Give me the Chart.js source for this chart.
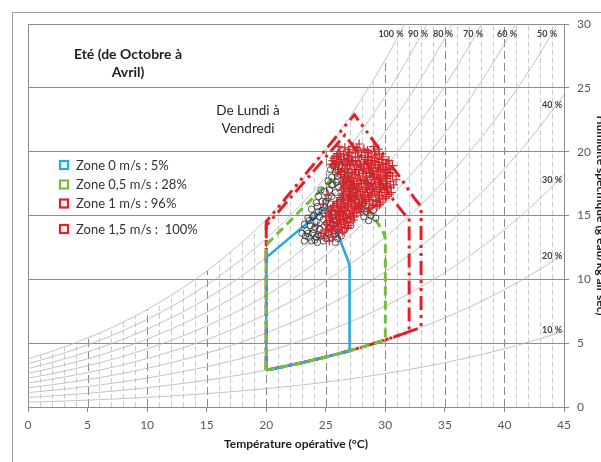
<!DOCTYPE html>
<html>
<head>
<meta charset="utf-8">
<script src="https://cdn.jsdelivr.net/npm/chart.js@4.4.1/dist/chart.umd.min.js"></script>
<style>
  html, body { margin: 0; padding: 0; background: #fff; }
  canvas { display: block; }
</style>
</head>
<body>
<canvas id="psychro" width="601" height="462"></canvas>
<script>
// Diagramme psychrometrique - confort ete
'use strict';

// temperatures (degC) et pression de vapeur saturante (Pa)
var tempGrid = [0,1,2,3,4,5,6,7,8,9,10,11,12,13,14,15,16,17,18,19,20,21,22,23,24,25,26,27,28,29,30,31,32,33,34,35,36,37,38,39,40,41,42,43,44,45];
var satPressure = [611,657,706,758,814,873,935,1002,1073,1148,1228,1313,1403,1498,1599,1706,1819,1938,2064,2198,2339,2488,2645,2810,2985,3169,3363,3567,3782,4008,4246,4495,4758,5034,5323,5628,5945,6280,6630,6996,7381,7784,8205,8646,9107,9589];
var rhLevels = [10,20,30,40,50,60,70,80,90,100];
var rhLabels = ['100 %','90 %','80 %','70 %','60 %','50 %','40 %','30 %','20 %','10 %'];

var xTicks = [0,5,10,15,20,25,30,35,40,45];
var yTicks = [0,5,10,15,20,25,30];

// zones de confort (T, humidite g/kg)
var zoneBlue  = [[20,2.89],[20,11.7],[25.1,15.7],[26.9,11.4],[27,11.0],[27,4.41],[26,4.16],[25,3.92],[24,3.69],[23,3.47],[22,3.27],[21,3.07],[20,2.89]];
var zoneGreen = [[20,2.89],[20,12.7],[26.4,18.7],[29.0,14.9],[29.8,13.8],[30,13.2],[30,5.26],[29,4.96],[28,4.68],[27,4.41],[26,4.16],[25,3.92],[24,3.69],[23,3.47],[22,3.27],[21,3.07],[20,2.89]];
var zoneRed1  = [[20,2.89],[20,14.2],[26.6,21.3],[31.1,15.7],[31.7,15.0],[32,14.8],[32,5.9],[31,5.57],[30,5.26],[29,4.96],[28,4.68],[27,4.41],[26,4.16],[25,3.92],[24,3.69],[23,3.47],[22,3.27],[21,3.07],[20,2.89]];
var zoneRed15 = [[20,2.89],[20,14.5],[27.4,22.9],[31.3,17.9],[32.4,16.4],[33,15.7],[33,6.24],[32,5.9],[31,5.57],[30,5.26],[29,4.96],[28,4.68],[27,4.41],[26,4.16],[25,3.92],[24,3.69],[23,3.47],[22,3.27],[21,3.07],[20,2.89]];
var zoneLabels = ['Zone 0 m/s : 5%','Zone 0,5 m/s : 28%','Zone 1 m/s : 96%','Zone 1,5 m/s :  100%'];

// mesures (T operative, humidite specifique)
var crossPoints = [
  [26.6,20.3],[27.3,20.4],[28.2,20.2],[27.8,20.6],[29.4,20.2],
  [26.2,20.0],[27.0,19.9],[27.7,20.1],[28.6,19.9],[29.1,20.0],
  [25.9,19.6],[26.5,19.8],[27.2,19.6],[28.0,19.7],[28.8,19.6],[29.5,19.8],
  [25.6,19.3],[26.3,19.4],[26.9,19.5],[27.5,19.3],[28.3,19.4],[28.9,19.3],[29.7,19.4],
  [25.5,19.0],[26.1,19.1],[26.7,19.0],[27.3,19.2],[27.9,19.0],[28.5,19.1],[29.1,19.2],[29.8,19.0],
  [25.8,18.8],[26.4,18.7],[27.0,18.9],[27.6,18.8],[28.2,18.7],[28.8,18.9],[29.4,18.7],[30.0,18.8],[30.6,18.9],
  [26.0,18.4],[26.6,18.5],[27.2,18.4],[27.8,18.6],[28.4,18.4],[29.0,18.5],[29.6,18.6],[30.2,18.4],
  [26.3,18.2],[26.9,18.1],[27.5,18.2],[28.1,18.3],[28.7,18.1],[29.3,18.2],[29.9,18.1],[30.4,18.3],
  [26.5,17.9],[27.1,17.8],[27.7,17.9],[28.3,17.8],[28.9,18.0],[29.5,17.8],[30.1,17.9],
  [26.4,17.5],[27.0,17.6],[27.6,17.5],[28.2,17.7],[28.8,17.5],[29.4,17.6],[30.0,17.5],[30.7,17.4],
  [26.6,17.3],[27.2,17.2],[27.8,17.3],[28.4,17.2],[29.0,17.3],[29.6,17.2],[30.2,17.3],
  [26.3,17.0],[26.9,16.9],[27.5,17.0],[28.1,16.9],[28.7,17.0],[29.3,16.9],[29.9,17.0],[30.5,16.8],
  [26.5,16.7],[27.1,16.6],[27.7,16.7],[28.3,16.6],[28.9,16.7],[29.5,16.6],[30.1,16.5],
  [26.2,16.4],[26.8,16.3],[27.4,16.4],[28.0,16.3],[28.6,16.4],[29.2,16.2],[29.8,16.3],
  [26.0,16.1],[26.6,16.0],[27.2,16.1],[27.8,16.0],[28.4,16.1],[29.0,15.9],[29.6,16.0],
  [25.7,15.8],[26.3,15.7],[26.9,15.8],[27.5,15.7],[28.1,15.8],[28.7,15.6],[29.3,15.7],
  [25.4,15.5],[26.0,15.4],[26.6,15.5],[27.2,15.4],[27.8,15.5],[28.5,15.3],
  [25.2,15.2],[25.8,15.1],[26.4,15.2],[27.0,15.1],[27.6,15.2],
  [25.0,14.9],[25.6,14.8],[26.2,14.9],[26.8,14.8],[27.4,14.9],
  [25.3,14.6],[25.9,14.5],[26.5,14.6],[27.1,14.5],
  [25.1,14.3],[25.7,14.2],[26.3,14.3],[26.9,14.2],
  [25.4,14.0],[26.0,13.9],[26.6,14.0],
  [25.2,13.7],[25.8,13.6],[26.4,13.7],
  [24.9,13.4],[25.6,13.3],[25.3,13.0],
  [24.6,13.6],[24.3,14.2],[30.9,17.8],[24.8,15.9],[25.2,16.6],[30.3,19.3],[26.1,20.4],
  [26.9,20.15],[27.6,20.3],[28.5,20.1],[29.0,20.4],
  [26.0,19.85],[26.8,19.7],[27.5,19.9],[28.3,19.95],[29.2,19.75],[29.8,19.6],
  [25.7,19.5],[26.2,19.6],[26.8,19.35],[27.7,19.55],[28.5,19.55],[29.3,19.5],
  [25.9,19.25],[26.6,19.2],[27.2,19.3],[27.8,19.25],[28.6,19.3],[29.4,19.15],[30.1,19.1],
  [25.7,18.95],[26.4,18.95],[27.1,19.05],[27.6,18.95],[28.2,19.0],[28.8,19.05],[29.5,18.95],[30.3,18.7],
  [26.1,18.6],[26.8,18.65],[27.4,18.6],[28.0,18.8],[28.6,18.65],[29.2,18.75],[29.8,18.5],[30.4,18.6],
  [26.3,18.4],[26.9,18.3],[27.5,18.35],[28.2,18.5],[28.8,18.3],[29.4,18.4],[30.0,18.35],[30.6,18.1],
  [26.6,18.0],[27.2,18.0],[27.8,18.1],[28.4,18.0],[29.0,18.2],[29.6,18.0],[30.2,18.1],
  [26.7,17.7],[27.3,17.7],[27.9,17.75],[28.5,17.6],[29.1,17.8],[29.7,17.7],[30.4,17.65],
  [26.8,17.45],[27.4,17.4],[28.0,17.5],[28.6,17.4],[29.2,17.45],[29.8,17.4],[30.4,17.2],
  [26.5,17.15],[27.1,17.1],[27.7,17.15],[28.3,17.05],[28.9,17.15],[29.5,17.05],[30.1,17.15],
  [26.7,16.85],[27.3,16.8],[27.9,16.85],[28.5,16.8],[29.1,16.85],[29.7,16.8],[30.3,16.65],
  [26.4,16.55],[27.0,16.5],[27.6,16.55],[28.2,16.45],[28.8,16.55],[29.4,16.45],[30.0,16.35],
  [26.3,16.25],[26.9,16.2],[27.5,16.25],[28.1,16.15],[28.7,16.25],[29.3,16.1],
  [25.9,15.95],[26.5,15.9],[27.1,15.95],[27.7,15.85],[28.3,15.95],[28.9,15.8],[29.5,15.85],
  [25.6,15.65],[26.2,15.6],[26.8,15.65],[27.4,15.55],[28.0,15.65],[28.6,15.45],
  [25.5,15.35],[26.1,15.3],[26.7,15.35],[27.3,15.25],[27.9,15.3],
  [25.3,15.05],[25.9,15.0],[26.5,15.05],[27.1,14.95],
  [25.5,14.75],[26.1,14.7],[26.7,14.75],[27.3,14.65],
  [25.4,14.45],[26.0,14.4],[26.6,14.45],
  [25.6,14.1],[26.2,14.15],[26.8,14.05],
  [25.0,13.85],[25.5,13.9],[26.1,13.8]
];
var circlePoints = [
  [23.2,13.0],[23.6,13.3],[23.4,13.8],[23.9,13.6],[24.1,13.1],[23.7,14.2],[24.2,14.5],[24.5,13.9],[24.0,15.0],
  [24.4,15.3],[24.8,14.7],[24.6,13.4],[25.0,13.2],[25.3,14.0],[24.9,15.6],[25.4,15.9],[25.6,15.1],[25.1,14.4],
  [23.5,14.8],[24.7,16.1],[23.0,13.6],[24.3,12.9],[25.7,13.5],[25.9,14.6],[25.2,16.4],[23.8,15.5],[24.2,16.0],
  [25.3,17.0],[25.6,17.4],[25.5,18.0],[25.8,18.4],[26.0,17.8],[25.9,19.0],[26.2,18.9],[26.4,18.3],[26.1,17.2],
  [25.7,19.5],[26.3,19.6],[26.6,18.7],[26.8,18.1],[26.5,17.5],[27.0,17.6],[27.2,17.1],[26.9,16.8],[27.4,16.5],
  [27.6,16.1],[27.8,15.7],[28.0,15.5],[27.3,15.9],[26.7,16.2],[26.2,16.0],[26.0,15.3],[26.4,15.0],[26.8,14.6],
  [27.1,14.2],[26.5,13.8],[26.0,13.2],[28.4,15.3],[28.8,15.0],[29.2,14.8],[28.6,14.6],[25.4,18.6],[25.2,17.7],
  [26.7,19.2],[27.5,18.4],[24.6,17.0],[24.9,16.9],[27.1,15.0],[29.0,15.4],
  [23.3,13.4],[23.8,13.0],[24.0,13.9],[24.4,13.5],[23.6,14.6],[24.1,14.1],[24.5,14.9],[24.8,13.0],[25.2,13.6],
  [24.7,15.4],[24.3,15.7],[25.5,16.5],[25.0,16.1],[23.9,14.9],[25.6,14.3],[24.9,14.2],[25.4,13.3],[24.2,13.3],
  [23.5,13.6],[25.8,16.8],[26.0,18.1],[25.6,18.9],[26.1,19.3],[25.5,17.4],[25.9,17.6],[24.4,16.5],[23.2,14.3],
  [25.8,12.9],[26.3,13.4],[28.2,14.9]
];

var FONT = 'Lato, "Open Sans", sans-serif';
var GRIS = '#8c8c8c';

function humidite(pv) {
    return 622 * pv / (101325 - pv);
}
function toXY(list) {
    return list.map(function (p) { return { x: p[0], y: p[1] }; });
}

var datasets = [];

// courbes d'humidite relative
rhLevels.forEach(function (rh) {
    datasets.push({
        data: tempGrid.map(function (t, i) { return { x: t, y: humidite(satPressure[i] * rh / 100) }; }),
        showLine: true, pointRadius: 0, borderColor: '#b4b4b4', borderWidth: 0.8, order: 6
    });
});

datasets.push({ label: zoneLabels[3], data: toXY(zoneRed15), showLine: true, pointRadius: 0,
    borderColor: '#e2202a', borderWidth: 3, borderDash: [14, 5, 3, 5, 3, 5], order: 4 });
datasets.push({ label: zoneLabels[2], data: toXY(zoneRed1), showLine: true, pointRadius: 0,
    borderColor: '#e2202a', borderWidth: 3, borderDash: [14, 5, 3, 5], order: 4 });
datasets.push({ label: zoneLabels[1], data: toXY(zoneGreen), showLine: true, pointRadius: 0,
    borderColor: '#74be3f', borderWidth: 3, borderDash: [9, 5], order: 3 });
datasets.push({ label: zoneLabels[0], data: toXY(zoneBlue), showLine: true, pointRadius: 0,
    borderColor: '#27aae1', borderWidth: 2.5, order: 3 });

datasets.push({ data: toXY(circlePoints), pointStyle: 'circle', pointRadius: 3.2,
    borderColor: '#2a2a2a', backgroundColor: 'rgba(0,0,0,0)', pointBorderWidth: 0.8, order: 2 });
datasets.push({ data: toXY(crossPoints), pointStyle: 'cross', pointRadius: 4.5,
    borderColor: '#d3232b', pointBorderWidth: 1.2, order: 1 });

var fond = {
    id: 'fond',
    beforeDatasetsDraw: function (chart) {
        var c = chart.ctx, sx = chart.scales.x, sy = chart.scales.y;
        c.save();
        tempGrid.forEach(function (t, i) {
            if (t === 0 || t === 45) return;
            var top = Math.min(humidite(satPressure[i]), 30);
            var x = Math.round(sx.getPixelForValue(t)) + 0.5;
            c.beginPath();
            if (t % 5 === 0) { c.strokeStyle = '#8a8a8a'; c.setLineDash([8, 4]); }
            else { c.strokeStyle = '#cacaca'; c.setLineDash([5, 3]); }
            c.lineWidth = 1;
            c.moveTo(x, sy.getPixelForValue(0));
            c.lineTo(x, sy.getPixelForValue(top));
            c.stroke();
        });
        c.setLineDash([]);
        c.strokeStyle = GRIS;
        var x0 = Math.round(sx.getPixelForValue(0)) + 0.5;
        c.beginPath();
        c.moveTo(x0, sy.getPixelForValue(0));
        c.lineTo(x0, sy.getPixelForValue(30));
        c.stroke();
        // cadre exterieur
        c.strokeStyle = '#a0a0a0';
        c.strokeRect(12.5, 12.5, 620, 480);
        c.restore();
    },
    afterDraw: function (chart) {
        var c = chart.ctx;
        c.save();
        c.fillStyle = '#1e1e1e';
        c.textAlign = 'center';
        c.textBaseline = 'middle';
        c.font = 'bold 14px ' + FONT;
        c.fillText('Eté (de Octobre à', 128, 54);
        c.fillText('Avril)', 128, 72);
        c.font = '13.5px ' + FONT;
        c.fillText('De Lundi à', 248, 111);
        c.fillText('Vendredi', 248, 129);

        var couleurs = ['#27aae1', '#74be3f', '#e2202a', '#e2202a'];
        var ys = [165, 184.5, 203.5, 229];
        c.textAlign = 'left';
        c.font = '13px ' + FONT;
        zoneLabels.forEach(function (lab, i) {
            c.strokeStyle = couleurs[i];
            c.lineWidth = 2.2;
            c.strokeRect(60, ys[i] - 4, 8, 8);
            c.fillStyle = '#333';
            c.fillText(lab, 76, ys[i] + 0.5);
        });

        var pos = [[391, 34], [418, 34], [443, 34], [473, 34], [507, 34], [547, 34], [552, 105], [552, 180], [552, 256], [552, 330]];
        c.font = 'bold 9px ' + FONT;
        c.textAlign = 'center';
        c.fillStyle = '#404040';
        rhLabels.forEach(function (lab, i) {
            c.fillText(lab, pos[i][0], pos[i][1]);
        });
        c.restore();
    }
};

var ctx = document.getElementById('psychro');
var psychroChart = new Chart(ctx, {
    type: 'scatter',
    data: { datasets: datasets },
    options: {
        responsive: false,
        animation: false,
        layout: { padding: { left: 28, top: 24, right: 0, bottom: 0 } },
        plugins: { legend: { display: false }, tooltip: { enabled: false } },
        scales: {
            x: {
                type: 'linear', min: 0, max: 45,
                afterBuildTicks: function (s) { s.ticks = xTicks.map(function (v) { return { value: v }; }); },
                afterFit: function (s) { s.height = 55; },
                ticks: { color: '#595959', padding: 6, font: { family: FONT, size: 12 } },
                grid: { drawOnChartArea: false, color: GRIS, tickLength: 5 },
                border: { color: GRIS },
                title: { display: true, text: 'Température opérative (°C)', color: '#1e1e1e',
                    font: { family: FONT, size: 12, weight: 'bold' }, padding: { top: 0, bottom: 11 } }
            },
            y: {
                type: 'linear', position: 'right', min: 0, max: 30,
                afterBuildTicks: function (s) { s.ticks = yTicks.map(function (v) { return { value: v }; }); },
                afterFit: function (s) { s.width = 37; },
                ticks: { color: '#595959', padding: 8, font: { family: FONT, size: 12 } },
                grid: { color: GRIS, tickLength: 5 },
                border: { color: GRIS },
                title: { display: true, text: 'Humidité spécifique (g eau/kg air sec)', color: '#1e1e1e',
                    font: { family: FONT, size: 12, weight: 'bold' }, padding: { top: -7, bottom: 0 } }
            }
        }
    },
    plugins: [fond]
});
</script>
</body>
</html>
